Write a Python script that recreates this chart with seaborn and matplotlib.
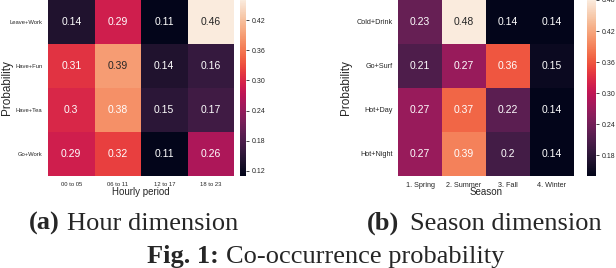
import numpy as np
import pandas as pd
import matplotlib
matplotlib.use("Agg")
import matplotlib.pyplot as plt
import seaborn as sns

# hour dimension
hour_rows = ["Leave+Work", "Have+Fun", "Have+Tea", "Go+Work"]
hour_cols = ["00 to 05", "06 to 11", "12 to 17", "18 to 23"]
hour_vals = [[0.14, 0.29, 0.11, 0.46],
             [0.31, 0.39, 0.14, 0.16],
             [0.30, 0.38, 0.15, 0.17],
             [0.29, 0.32, 0.11, 0.26]]

# season dimension
season_rows = ["Cold+Drink", "Go+Surf", "Hot+Day", "Hot+Night"]
season_cols = ["1. Spring", "2. Summer", "3. Fall", "4. Winter"]
season_vals = [[0.23, 0.48, 0.14, 0.14],
               [0.21, 0.27, 0.36, 0.15],
               [0.27, 0.37, 0.22, 0.14],
               [0.27, 0.39, 0.20, 0.14]]

df_hour = pd.DataFrame(hour_vals, index=hour_rows, columns=hour_cols)
df_season = pd.DataFrame(season_vals, index=season_rows, columns=season_cols)

sns.set_style("white")
plt.rcParams['font.family'] = ['Liberation Sans', 'DejaVu Sans']

W, H = 616, 268
fig = plt.figure(figsize=(W / 100, H / 100), dpi=100)


def box(x, y, w, h):
    return [x / W, 1 - (y + h) / H, w / W, h / H]


ax1 = fig.add_axes(box(48, 0, 186, 176))
cb1 = fig.add_axes(box(240, 0, 6, 176))
ax2 = fig.add_axes(box(398, 0, 176, 176))
cb2 = fig.add_axes(box(587, 0, 9, 176))

settings = [
    (ax1, cb1, df_hour, "Hourly period", [0.12, 0.18, 0.24, 0.30, 0.36, 0.42], 4.2, -0.19),
    (ax2, cb2, df_season, "Season", [0.18, 0.24, 0.30, 0.36, 0.42, 0.48], 5.2, -0.26),
]
for ax, cax, df, xl, ticks, tsize, ylx in settings:
    sns.heatmap(df, ax=ax, cbar_ax=cax, annot=True, fmt="g",
                annot_kws={"fontsize": 7.5})
    ax.set_xlabel(xl, fontsize=7)
    ax.set_ylabel("Probability", fontsize=8.5)
    ax.xaxis.set_label_coords(0.5, -0.065)
    ax.yaxis.set_label_coords(ylx, 0.5)
    ax.tick_params(axis="both", labelsize=tsize, length=0)
    ax.tick_params(axis="x", pad=4)
    ax.tick_params(axis="y", pad=4)
    ax.set_yticklabels(df.index, rotation=0)
    ax.set_xticklabels(df.columns, rotation=0)
    cax.set_yticks(ticks)
    cax.set_yticklabels([f"{t:.2f}" for t in ticks])
    cax.tick_params(labelsize=5, length=2, width=0.6, pad=2)
    for s in cax.spines.values():
        s.set_visible(False)

# captions
serif = ['Liberation Serif', 'DejaVu Serif']
fs = 19
fig.text(60 / W, 1 - 230 / H, "(a)", fontsize=fs, fontweight="bold", family=serif,
         ha="right", va="baseline")
fig.text(67 / W, 1 - 230 / H, "Hour dimension", fontsize=fs, family=serif, va="baseline")
fig.text(399 / W, 1 - 230 / H, "(b)", fontsize=fs, fontweight="bold", family=serif,
         ha="right", va="baseline")
fig.text(410 / W, 1 - 230 / H, "Season dimension", fontsize=fs, family=serif, va="baseline")
fig.text(219 / W, 1 - 263 / H, "Fig. 1:", fontsize=fs, fontweight="bold", family=serif,
         ha="right", va="baseline")
fig.text(226 / W, 1 - 263 / H, "Co-occurrence probability", fontsize=fs, family=serif,
         va="baseline")

fig.savefig("out.png", dpi=100)
